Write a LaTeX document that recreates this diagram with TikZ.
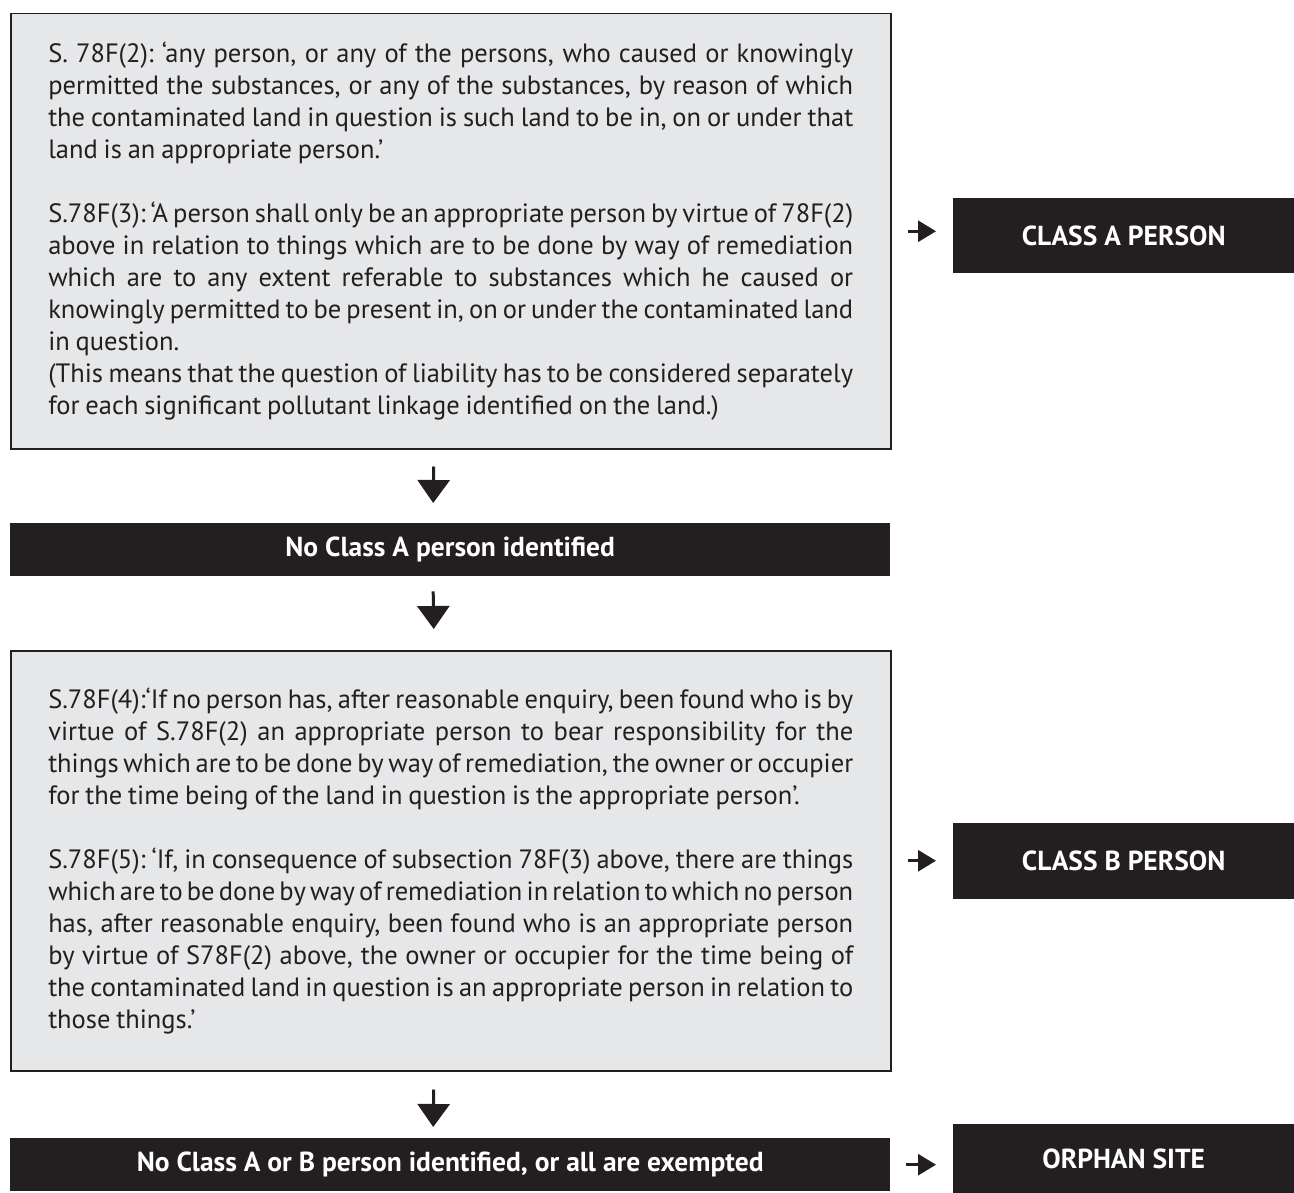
\documentclass[tikz,border=0pt]{standalone}
\usepackage{fontspec}
\setmainfont{PT Sans}
\usetikzlibrary{arrows.meta}
\definecolor{ink}{HTML}{231F20}
\definecolor{panel}{HTML}{E6E7E8}
\newcommand{\panelspace}{\spaceskip=0.22em plus 1em minus 0.15em\xspaceskip=\spaceskip}
\newcommand{\jl}[1]{\leavevmode\hbox to 805pt{\panelspace #1}\\}
\begin{document}
\begin{tikzpicture}[x=1pt,y=-1pt,
  panelbox/.style={draw=ink, line width=1.5pt, fill=panel, text=ink, inner sep=0pt,
    text width=805pt, align=left, minimum width=880pt,
    font=\fontsize{26.5}{32}\selectfont},
  blackbar/.style={fill=ink, text=white, inner sep=0pt,
    font=\bfseries\fontsize{27.5}{30}\selectfont},
  vert/.style={draw=ink, line width=3pt, -{Triangle[length=23pt,width=32pt]}},
  hor/.style={draw=ink, line width=3pt, -{Triangle[length=18pt,width=21pt]}}]
\useasboundingbox (0,0) rectangle (1294,1193);

\node[panelbox, anchor=north west, minimum height=435pt] (box1) at (10,13) {\panelspace
\jl{S. 78F(2): ‘any person, or any of the persons, who caused or knowingly}
\jl{permitted the substances, or any of the substances, by reason of which}
\jl{the contaminated land in question is such land to be in, on or under that}
land is an appropriate person.’\\[32pt]
\jl{S.78F(3): ‘A person shall only be an appropriate person by virtue of 78F(2)}
\jl{above in relation to things which are to be done by way of remediation}
\jl{which are to any extent referable to substances which he caused or}
\jl{knowingly permitted to be present in, on or under the contaminated land}
in question.\\
\jl{(This means that the question of liability has to be considered separately}
for each significant pollutant linkage identified on the land.)};

\node[blackbar, anchor=north west, minimum width=880pt, minimum height=53pt] (bar1) at (10,523) {No Class A person identified};

\node[panelbox, anchor=north west, minimum height=420pt] (box2) at (10,650) {\panelspace
\jl{S.78F(4):‘If no person has, after reasonable enquiry, been found who is by}
\jl{virtue of S.78F(2) an appropriate person to bear responsibility for the}
\jl{things which are to be done by way of remediation, the owner or occupier}
for the time being of the land in question is the appropriate person’.\\[32pt]
\jl{S.78F(5): ‘If, in consequence of subsection 78F(3) above, there are things}
\jl{which are to be done by way of remediation in relation to which no person}
\jl{has, after reasonable enquiry, been found who is an appropriate person}
\jl{by virtue of S78F(2) above, the owner or occupier for the time being of}
\jl{the contaminated land in question is an appropriate person in relation to}
those things.’};

\node[blackbar, anchor=north west, minimum width=880pt, minimum height=53pt] (bar3) at (10,1138) {No Class A or B person identified, or all are exempted};

\node[blackbar, anchor=north west, minimum width=341pt, minimum height=75pt] (classA) at (953,198) {CLASS A PERSON};
\node[blackbar, anchor=north west, minimum width=341pt, minimum height=76pt] (classB) at (953,823) {CLASS B PERSON};
\node[blackbar, anchor=north west, minimum width=341pt, minimum height=69pt] (orphan) at (953,1124) {ORPHAN SITE};

\draw[vert] ([xshift=-17pt,yshift=-17pt]box1.south) -- ([xshift=-17pt,yshift=20pt]bar1.north);
\draw[vert] ([xshift=-17pt,yshift=-15pt]bar1.south) -- ([xshift=-17pt,yshift=21pt]box2.north);
\draw[vert] ([xshift=-17pt,yshift=-18pt]box2.south) -- ([xshift=-17pt,yshift=11pt]bar3.north);

\draw[hor] ([xshift=16pt]box1.east) -- ([xshift=-17pt]box1.east -| classA.west);
\draw[hor] ([xshift=16pt]box2.east) -- ([xshift=-17pt]box2.east -| classB.west);
\draw[hor] ([xshift=16pt]bar3.east) -- ([xshift=-17pt]bar3.east -| orphan.west);
\end{tikzpicture}
\end{document}
